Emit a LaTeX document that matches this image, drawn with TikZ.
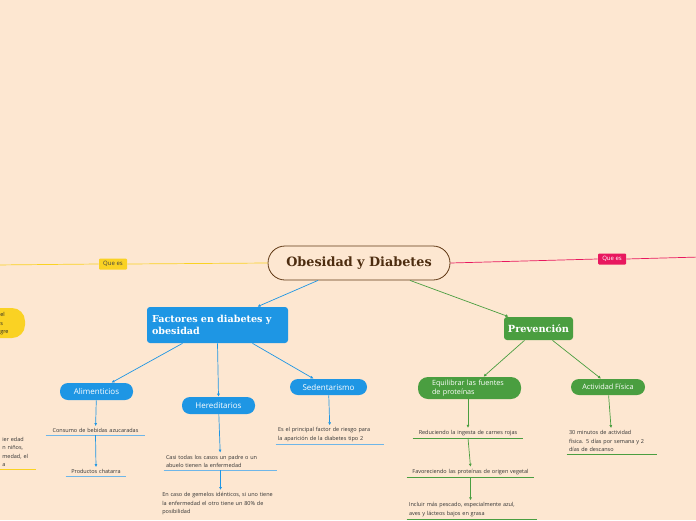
\documentclass[tikz,border=0pt]{standalone}
\usepackage{fontspec}
\setmainfont{Open Sans}
\newfontfamily\titfont{DejaVu Serif}
\usetikzlibrary{arrows.meta}
\definecolor{fondo}{RGB}{253,231,209}
\definecolor{cafe}{RGB}{96,56,20}
\definecolor{azul}{RGB}{30,150,228}
\definecolor{azulc}{RGB}{110,182,232}
\definecolor{verde}{RGB}{74,158,64}
\definecolor{amarillo}{RGB}{250,210,35}
\definecolor{rosa}{RGB}{232,24,95}

\begin{document}
\begin{tikzpicture}[x=1pt,y=-1pt,line width=.7pt,font=\fontsize{5.5}{8.5}\selectfont,
  pill/.style={fill=#1,text=white,rounded corners=8pt,inner sep=0pt,font=\fontsize{8}{9}\selectfont},
  caja/.style={fill=#1,text=white,rounded corners=3pt,font=\titfont\bfseries\fontsize{9.6}{12.5}\selectfont},
  hoja/.style={text width=#1,inner sep=2pt,align=left,text=black!80},
  hojac/.style={hoja=#1,align=center},
  etq/.style={fill=#1,rounded corners=1pt,inner sep=1.5pt,minimum width=28,minimum height=11,font=\fontsize{6}{7}\selectfont},
  flecha/.style={-{Latex[length=3pt,width=3pt]}}]
\fill[fondo] (0,0) rectangle (696,520);
\useasboundingbox (0,0) rectangle (696,520);
\clip (0,0) rectangle (696,520);

% centro
\node[draw=cafe,line width=.8pt,rounded corners=17pt,minimum width=182,minimum height=34,text=cafe!80!black,
  font=\titfont\bfseries\fontsize{12.8}{14}\selectfont] (obe) at (359,263) {Obesidad y Diabetes};
\node[etq=amarillo,text=black!75] (qe1) at (113,264) {Que es};
\node[etq=rosa,text=white] (qe2) at (612,259) {Que es};
\coordinate (izq) at (-5,265);
\coordinate (der) at (700,257);
\draw[amarillo] (obe.west) -- (qe1.east) (qe1.west) -- (izq);
\draw[rosa] (obe.east) -- (qe2.west) (qe2.east) -- (der);

% rama izquierda (cortada)
\fill[amarillo] (-40,308) [rounded corners=13pt] rectangle (25,338);
\node[anchor=west,align=left,inner sep=0pt,text=black!85] (def) at (0,324) {el\\s\\gre};
\node[hoja=31,anchor=south west] (lz) at (0,469) {ier edad\\n niños,\\medad, el\\a};
\draw[amarillo] (lz.south west) -- (lz.south east);

% factores
\node[caja=azul,minimum width=141,minimum height=36,text width=131,align=left] (fac) at (217.5,325) {Factores en diabetes y\\obesidad};
\draw[azul,flecha] ([xshift=-41]obe.south) -- ([xshift=40]fac.north);
\node[pill=azul,minimum width=73,minimum height=17] (ali) at (96.5,391.5) {Alimenticios};
\node[pill=azul,minimum width=73,minimum height=17] (her) at (218.5,405.5) {Hereditarios};
\node[pill=azul,minimum width=77,minimum height=16] (sed) at (328.5,387) {Sedentarismo};
\draw[azul,flecha] ([xshift=-35]fac.south) -- ([xshift=15]ali.north);
\draw[azul,flecha] (fac.south) -- (her.north);
\draw[azul,flecha] ([xshift=35]fac.south) -- ([xshift=-15]sed.north);

\node[hojac=95,anchor=south] (c1) at (95.5,435) {Consumo de bebidas azucaradas};
\node[hojac=56,anchor=south] (c2) at (96,476) {Productos chatarra};
\node[hoja=109,anchor=south] (h1) at (220.5,470) {Casi todas los casos un padre o un\\abuelo tienen la enfermedad};
\node[hoja=121,anchor=north west] (h2) at (160,490) {En caso de gemelos idénticos, si uno tiene\\la enfermedad el otro tiene un 80\% de\\posibilidad};
\node[hoja=104,anchor=south] (s1) at (330,444) {Es el principal factor de riesgo para\\la aparición de la diabetes tipo 2};
\foreach \h in {c1,c2,h1,s1}
  \draw[azulc] (\h.south west) -- (\h.south east);
\draw[azul,flecha] (ali) -- (c1);
\draw[azul,flecha] (c1.south) -- (c2.north);
\draw[azul,flecha] (her) -- (h1);
\draw[azul,flecha] (h1.south) -- (h2.north-|h1.south);
\draw[azul,flecha] (sed) -- (s1);

% prevencion
\node[caja=verde,minimum width=69,minimum height=23,font=\titfont\bfseries\fontsize{9.8}{11}\selectfont] (pre) at (538.5,328.5) {Prevención};
\draw[verde,flecha] ([xshift=51]obe.south) -- ([xshift=-30]pre.north);
\node[pill=verde,rounded corners=10pt,minimum width=103,minimum height=22,text width=75,align=left,
  font=\fontsize{7.2}{8.5}\selectfont] (equ) at (469.5,388) {Equilibrar las fuentes\\de proteínas};
\node[pill=verde,minimum width=74,minimum height=16,font=\fontsize{7.3}{8.5}\selectfont] (act) at (608,387) {Actividad Física};
\draw[verde,flecha] ([xshift=-14]pre.south) -- ([xshift=14]equ.north);
\draw[verde,flecha] ([xshift=14]pre.south) -- ([xshift=-7]act.north);

\node[hojac=106,anchor=south] (p1) at (468,438) {Reduciendo la ingesta de carnes rojas};
\node[hojac=123,anchor=south] (p2) at (470.5,477) {Favoreciendo las proteínas de origen vegetal};
\node[hoja=126,anchor=south] (p3) at (472,519) {Incluir más pescado, especialmente azul,\\aves y lácteos bajos en grasa};
\node[hoja=86,anchor=south] (a1) at (612,454) {30 minutos de actividad\\física. 5 días por semana y 2\\días de descanso};
\foreach \h in {p1,p2,p3,a1}
  \draw[verde] (\h.south west) -- (\h.south east);
\draw[verde,flecha] (equ.south-|p1.north) -- (p1.north);
\draw[verde,flecha] (p1.south) -- (p2.north);
\draw[verde,flecha] (p2.south) -- (p3.north-|p2.south);
\draw[verde,flecha] (act) -- (a1);
\end{tikzpicture}
\end{document}
